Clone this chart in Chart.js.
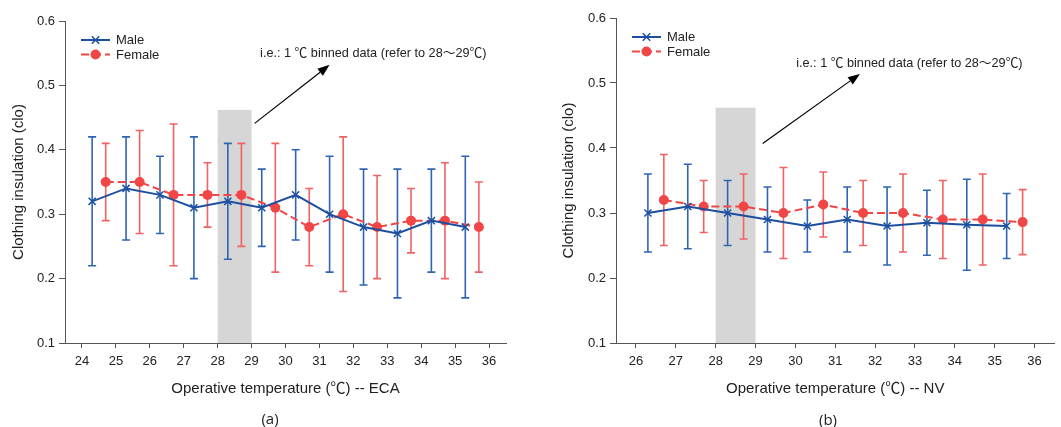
<!DOCTYPE html>
<html><head><meta charset="utf-8">
<script src="https://cdn.jsdelivr.net/npm/chart.js@4.4.1/dist/chart.umd.min.js"></script>
<style>
html,body{margin:0;padding:0;background:#fff;}
#wrap{position:relative;width:1061px;height:427px;overflow:hidden;background:#fff;}
.c{position:absolute;top:0;height:427px;}
#ca{left:0;width:530px;}
#cb{left:530px;width:531px;}
.lab{position:absolute;font:15px 'Open Sans','Liberation Sans',Arial,sans-serif;color:#222;transform:translate(-50%,-50%);}
</style></head>
<body><div id="wrap">
<div class="c" id="ca"><canvas id="a"></canvas></div>
<div class="c" id="cb"><canvas id="b"></canvas></div>
<div class="lab" style="left:270px;top:418px">(a)</div>
<div class="lab" style="left:828px;top:419px">(b)</div>
</div>
<script>
// ---------- DATA ----------
const yTicks = [0.1, 0.2, 0.3, 0.4, 0.5, 0.6];
const ecaXTicks = [24, 25, 26, 27, 28, 29, 30, 31, 32, 33, 34, 35, 36];
const nvXTicks = [26, 27, 28, 29, 30, 31, 32, 33, 34, 35, 36];

const ecaMaleX = [24.3, 25.3, 26.3, 27.3, 28.3, 29.3, 30.3, 31.3, 32.3, 33.3, 34.3, 35.3];
const ecaMaleMean = [0.32, 0.34, 0.33, 0.31, 0.32, 0.31, 0.33, 0.30, 0.28, 0.27, 0.29, 0.28];
const ecaMaleLow = [0.22, 0.26, 0.27, 0.20, 0.23, 0.25, 0.26, 0.21, 0.19, 0.17, 0.21, 0.17];
const ecaMaleHigh = [0.42, 0.42, 0.39, 0.42, 0.41, 0.37, 0.40, 0.39, 0.37, 0.37, 0.37, 0.39];
const ecaFemaleX = [24.7, 25.7, 26.7, 27.7, 28.7, 29.7, 30.7, 31.7, 32.7, 33.7, 34.7, 35.7];
const ecaFemaleMean = [0.35, 0.35, 0.33, 0.33, 0.33, 0.31, 0.28, 0.30, 0.28, 0.29, 0.29, 0.28];
const ecaFemaleLow = [0.29, 0.27, 0.22, 0.28, 0.25, 0.21, 0.22, 0.18, 0.20, 0.24, 0.20, 0.21];
const ecaFemaleHigh = [0.41, 0.43, 0.44, 0.38, 0.41, 0.41, 0.34, 0.42, 0.36, 0.34, 0.38, 0.35];

const nvMaleX = [26.3, 27.3, 28.3, 29.3, 30.3, 31.3, 32.3, 33.3, 34.3, 35.3];
const nvMaleMean = [0.30, 0.31, 0.30, 0.29, 0.28, 0.29, 0.28, 0.285, 0.282, 0.28];
const nvMaleLow = [0.24, 0.245, 0.25, 0.24, 0.24, 0.24, 0.22, 0.235, 0.212, 0.23];
const nvMaleHigh = [0.36, 0.375, 0.35, 0.34, 0.32, 0.34, 0.34, 0.335, 0.352, 0.33];
const nvFemaleX = [26.7, 27.7, 28.7, 29.7, 30.7, 31.7, 32.7, 33.7, 34.7, 35.7];
const nvFemaleMean = [0.32, 0.31, 0.31, 0.30, 0.313, 0.30, 0.30, 0.29, 0.29, 0.286];
const nvFemaleLow = [0.25, 0.27, 0.26, 0.23, 0.263, 0.25, 0.24, 0.23, 0.22, 0.236];
const nvFemaleHigh = [0.39, 0.35, 0.36, 0.37, 0.363, 0.35, 0.36, 0.35, 0.36, 0.336];

const seriesNames = ['Male', 'Female'];
const noteText = 'i.e.: 1 \u2103 binned data (refer to 28\uFF5E29\u2103)';
const binRange = [28, 29];
// ---------- STYLE ----------
const MALE = '#1d4f9f', MALE_ERR = '#2f64b5';
const FEMALE = '#f04646', FEMALE_ERR = '#f26262';
const FONT = "'Liberation Sans', 'Noto Sans CJK SC', sans-serif";
Chart.defaults.font.family = FONT;
Chart.defaults.color = '#222';

const pts = (xs, ys) => xs.map((x, i) => ({x: x, y: ys[i]}));

function drawMarker(ctx, style, x, y, r, color) {
  ctx.save();
  ctx.strokeStyle = color; ctx.fillStyle = color; ctx.lineWidth = 1.5; ctx.setLineDash([]);
  if (style === 'crossRot') {
    const d = r * 0.75;
    ctx.beginPath();
    ctx.moveTo(x - d, y - d); ctx.lineTo(x + d, y + d);
    ctx.moveTo(x + d, y - d); ctx.lineTo(x - d, y + d);
    ctx.stroke();
  } else {
    ctx.beginPath(); ctx.arc(x, y, r, 0, Math.PI * 2); ctx.fill();
  }
  ctx.restore();
}

const extras = {
  id: 'extras',
  beforeDatasetsDraw(chart) {
    const o = chart.options.plugins.extras;
    const {ctx} = chart; const xs = chart.scales.x, ys = chart.scales.y;
    // shaded bin
    ctx.save();
    ctx.fillStyle = '#d6d6d6';
    const x0 = xs.getPixelForValue(o.band[0]), x1 = xs.getPixelForValue(o.band[1]);
    const yb = ys.getPixelForValue(ys.min), yt = ys.getPixelForValue(o.band[2]);
    ctx.fillRect(x0, yt, x1 - x0, yb - yt);
    ctx.restore();
    // error bars
    chart.data.datasets.forEach(ds => {
      ctx.save();
      ctx.strokeStyle = ds.errColor; ctx.lineWidth = 1.6;
      ds.data.forEach((p, i) => {
        const px = xs.getPixelForValue(p.x);
        const lo = ys.getPixelForValue(ds.errLow[i]), hi = ys.getPixelForValue(ds.errHigh[i]);
        ctx.beginPath();
        ctx.moveTo(px, lo); ctx.lineTo(px, hi);
        ctx.moveTo(px - 4, lo); ctx.lineTo(px + 4, lo);
        ctx.moveTo(px - 4, hi); ctx.lineTo(px + 4, hi);
        ctx.stroke();
      });
      ctx.restore();
    });
  },
  afterDraw(chart) {
    const o = chart.options.plugins.extras;
    const {ctx, chartArea} = chart; const xs = chart.scales.x, ys = chart.scales.y;
    // arrow
    const ax0 = xs.getPixelForValue(o.arrow[0]), ay0 = ys.getPixelForValue(o.arrow[1]);
    const ax1 = xs.getPixelForValue(o.arrow[2]), ay1 = ys.getPixelForValue(o.arrow[3]);
    const ang = Math.atan2(ay1 - ay0, ax1 - ax0);
    ctx.save();
    ctx.strokeStyle = '#000'; ctx.fillStyle = '#000'; ctx.lineWidth = 1.2;
    const hl = 12, hw = 4.5;
    const bx = ax1 - hl * Math.cos(ang), by = ay1 - hl * Math.sin(ang);
    ctx.beginPath(); ctx.moveTo(ax0, ay0); ctx.lineTo(bx, by); ctx.stroke();
    ctx.beginPath();
    ctx.moveTo(ax1, ay1);
    ctx.lineTo(bx + hw * Math.sin(ang), by - hw * Math.cos(ang));
    ctx.lineTo(bx - hw * Math.sin(ang), by + hw * Math.cos(ang));
    ctx.closePath(); ctx.fill();
    // note text
    ctx.font = '12.7px ' + FONT; ctx.fillStyle = '#222';
    ctx.textBaseline = 'middle'; ctx.textAlign = 'left';
    ctx.fillText(o.note, xs.getPixelForValue(o.notePos[0]), ys.getPixelForValue(o.notePos[1]));
    // legend
    const lx = chartArea.left + 16, ly = chartArea.top + 19;
    chart.data.datasets.forEach((ds, i) => {
      const y = ly + i * 14.5;
      ctx.save();
      ctx.strokeStyle = ds.borderColor; ctx.lineWidth = 2;
      ctx.setLineDash(ds.borderDash || []);
      ctx.beginPath(); ctx.moveTo(lx, y); ctx.lineTo(lx + 29, y); ctx.stroke();
      ctx.restore();
      drawMarker(ctx, ds.pointStyle, lx + 14.5, y, ds.pointRadius, ds.borderColor);
      ctx.font = '13px ' + FONT; ctx.fillStyle = '#222';
      ctx.textBaseline = 'middle'; ctx.textAlign = 'left';
      ctx.fillText(ds.label, lx + 35, y + 0.5);
    });
    ctx.restore();
  }
};

function makeChart(id, cfg) {
  return new Chart(document.getElementById(id), {
    type: 'scatter',
    data: {
      datasets: [
        {label: seriesNames[0], data: pts(cfg.mx, cfg.mm), errLow: cfg.ml, errHigh: cfg.mh, errColor: MALE_ERR,
         showLine: true, borderColor: MALE, backgroundColor: MALE, borderWidth: 2,
         pointStyle: 'crossRot', pointRadius: 5, pointBorderWidth: 1.5},
        {label: seriesNames[1], data: pts(cfg.fx, cfg.fm), errLow: cfg.fl, errHigh: cfg.fh, errColor: FEMALE_ERR,
         showLine: true, borderColor: FEMALE, backgroundColor: FEMALE, borderWidth: 2, borderDash: [8, 4],
         pointStyle: 'circle', pointRadius: 5, pointBorderWidth: 0}
      ]
    },
    options: {
      responsive: true, maintainAspectRatio: false, animation: false,
      layout: {padding: cfg.pad},
      plugins: {
        legend: {display: false}, tooltip: {enabled: false},
        extras: {band: cfg.band, arrow: cfg.arrow, note: noteText, notePos: cfg.notePos}
      },
      scales: {
        x: {
          type: 'linear', min: cfg.xmin, max: cfg.xmax,
          afterBuildTicks: s => { s.ticks = cfg.xt.map(v => ({value: v})); },
          afterFit: s => { s.height = cfg.xh; },
          grid: {drawOnChartArea: false, drawTicks: true, tickLength: 5, color: '#555'},
          border: {display: true, color: '#555', width: 1},
          ticks: {font: {size: 13}, padding: 6, color: '#222', maxRotation: 0, callback: v => String(v)},
          title: {display: true, text: cfg.xtitle, font: {size: 15}, color: '#222', padding: {top: 0, bottom: 29}}
        },
        y: {
          min: 0.1, max: 0.6,
          afterBuildTicks: s => { s.ticks = yTicks.map(v => ({value: v})); },
          afterFit: s => { s.width = cfg.yw; },
          grid: {drawOnChartArea: false, drawTicks: true, tickLength: 6, color: '#555'},
          border: {display: true, color: '#555', width: 1},
          ticks: {font: {size: 13}, padding: 4, color: '#222', callback: v => v.toFixed(1)},
          title: {display: true, text: 'Clothing insulation (clo)', font: {size: 15}, color: '#222', padding: {top: cfg.ytp, bottom: 0}}
        }
      }
    },
    plugins: [extras]
  });
}

makeChart('a', {
  mx: ecaMaleX, mm: ecaMaleMean, ml: ecaMaleLow, mh: ecaMaleHigh,
  fx: ecaFemaleX, fm: ecaFemaleMean, fl: ecaFemaleLow, fh: ecaFemaleHigh,
  xt: ecaXTicks, xmin: 23.5, xmax: 36.5,
  pad: {top: 21, right: 24, left: 0, bottom: 0}, yw: 65, xh: 84, ytp: 10,
  xtitle: 'Operative temperature (\u2103) -- ECA',
  band: [binRange[0], binRange[1], 0.462], arrow: [29.09, 0.441, 31.3, 0.532], notePos: [29.25, 0.549]
});
makeChart('b', {
  mx: nvMaleX, mm: nvMaleMean, ml: nvMaleLow, mh: nvMaleHigh,
  fx: nvFemaleX, fm: nvFemaleMean, fl: nvFemaleLow, fh: nvFemaleHigh,
  xt: nvXTicks, xmin: 25.5, xmax: 36.5,
  pad: {top: 18, right: 2, left: 0, bottom: 0}, yw: 86, xh: 84, ytp: 30,
  xtitle: 'Operative temperature (\u2103) -- NV',
  band: [binRange[0], binRange[1], 0.462], arrow: [29.18, 0.407, 31.62, 0.514], notePos: [30.02, 0.53]
});
</script>
</body></html>
